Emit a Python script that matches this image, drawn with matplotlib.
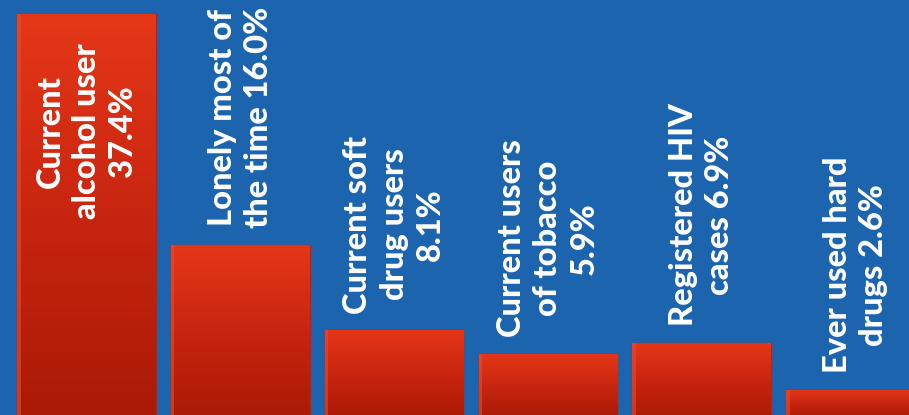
import numpy as np
import matplotlib
matplotlib.use("Agg")
import matplotlib.pyplot as plt
from matplotlib.colors import LinearSegmentedColormap

# Data
categories = ["Current\nalcohol user\n37.4%",
              "Lonely most of\nthe time 16.0%",
              "Current soft\ndrug users\n8.1%",
              "Current users\nof tobacco\n5.9%",
              "Registered HIV\ncases 6.9%",
              "Ever used hard\ndrugs 2.6%"]
values = [37.4, 16.0, 8.1, 5.9, 6.9, 2.6]

BG = "#1c64ae"
fig = plt.figure(figsize=(9.09, 4.15), dpi=100, facecolor=BG)
ax = fig.add_axes([0, 0, 1, 1])
ax.set_facecolor(BG)

x = np.arange(len(values))
bars = ax.bar(x, values, width=0.9, color="#d42a10", edgecolor="#b82410",
              linewidth=1.0, zorder=2)

cmap = LinearSegmentedColormap.from_list("g", ["#aa1a05", "#c82510", "#e53718"])
grad = np.linspace(0, 1, 256).reshape(-1, 1)
for b in bars:
    x0, w, h = b.get_x(), b.get_width(), b.get_height()
    im = ax.imshow(grad, extent=[x0, x0 + w, 0, h], origin="lower",
                   cmap=cmap, aspect="auto", zorder=3)
    im.set_clip_path(b)
    # light left edge strip
    ax.bar(x0 + w * 0.012, h, width=w * 0.024, color="#f04a25", alpha=0.6,
           zorder=4, linewidth=0)

font = dict(family=["Lato", "DejaVu Sans"], weight="black", color="white",
            fontsize=23.5, rotation=90, ha="center", multialignment="center",
            linespacing=1.3, zorder=5)

for i, (lab, v) in enumerate(zip(categories, values)):
    if i == 0:
        ax.text(i, v * 0.71, lab, va="center", **font)
    else:
        ax.text(i, v + 1.55, lab, va="bottom", **font)

ax.set_xlim(-0.5624, 5.348)
ax.set_ylim(0.25, 38.7)
ax.axis("off")

fig.savefig("out.png", dpi=100, facecolor=BG)
